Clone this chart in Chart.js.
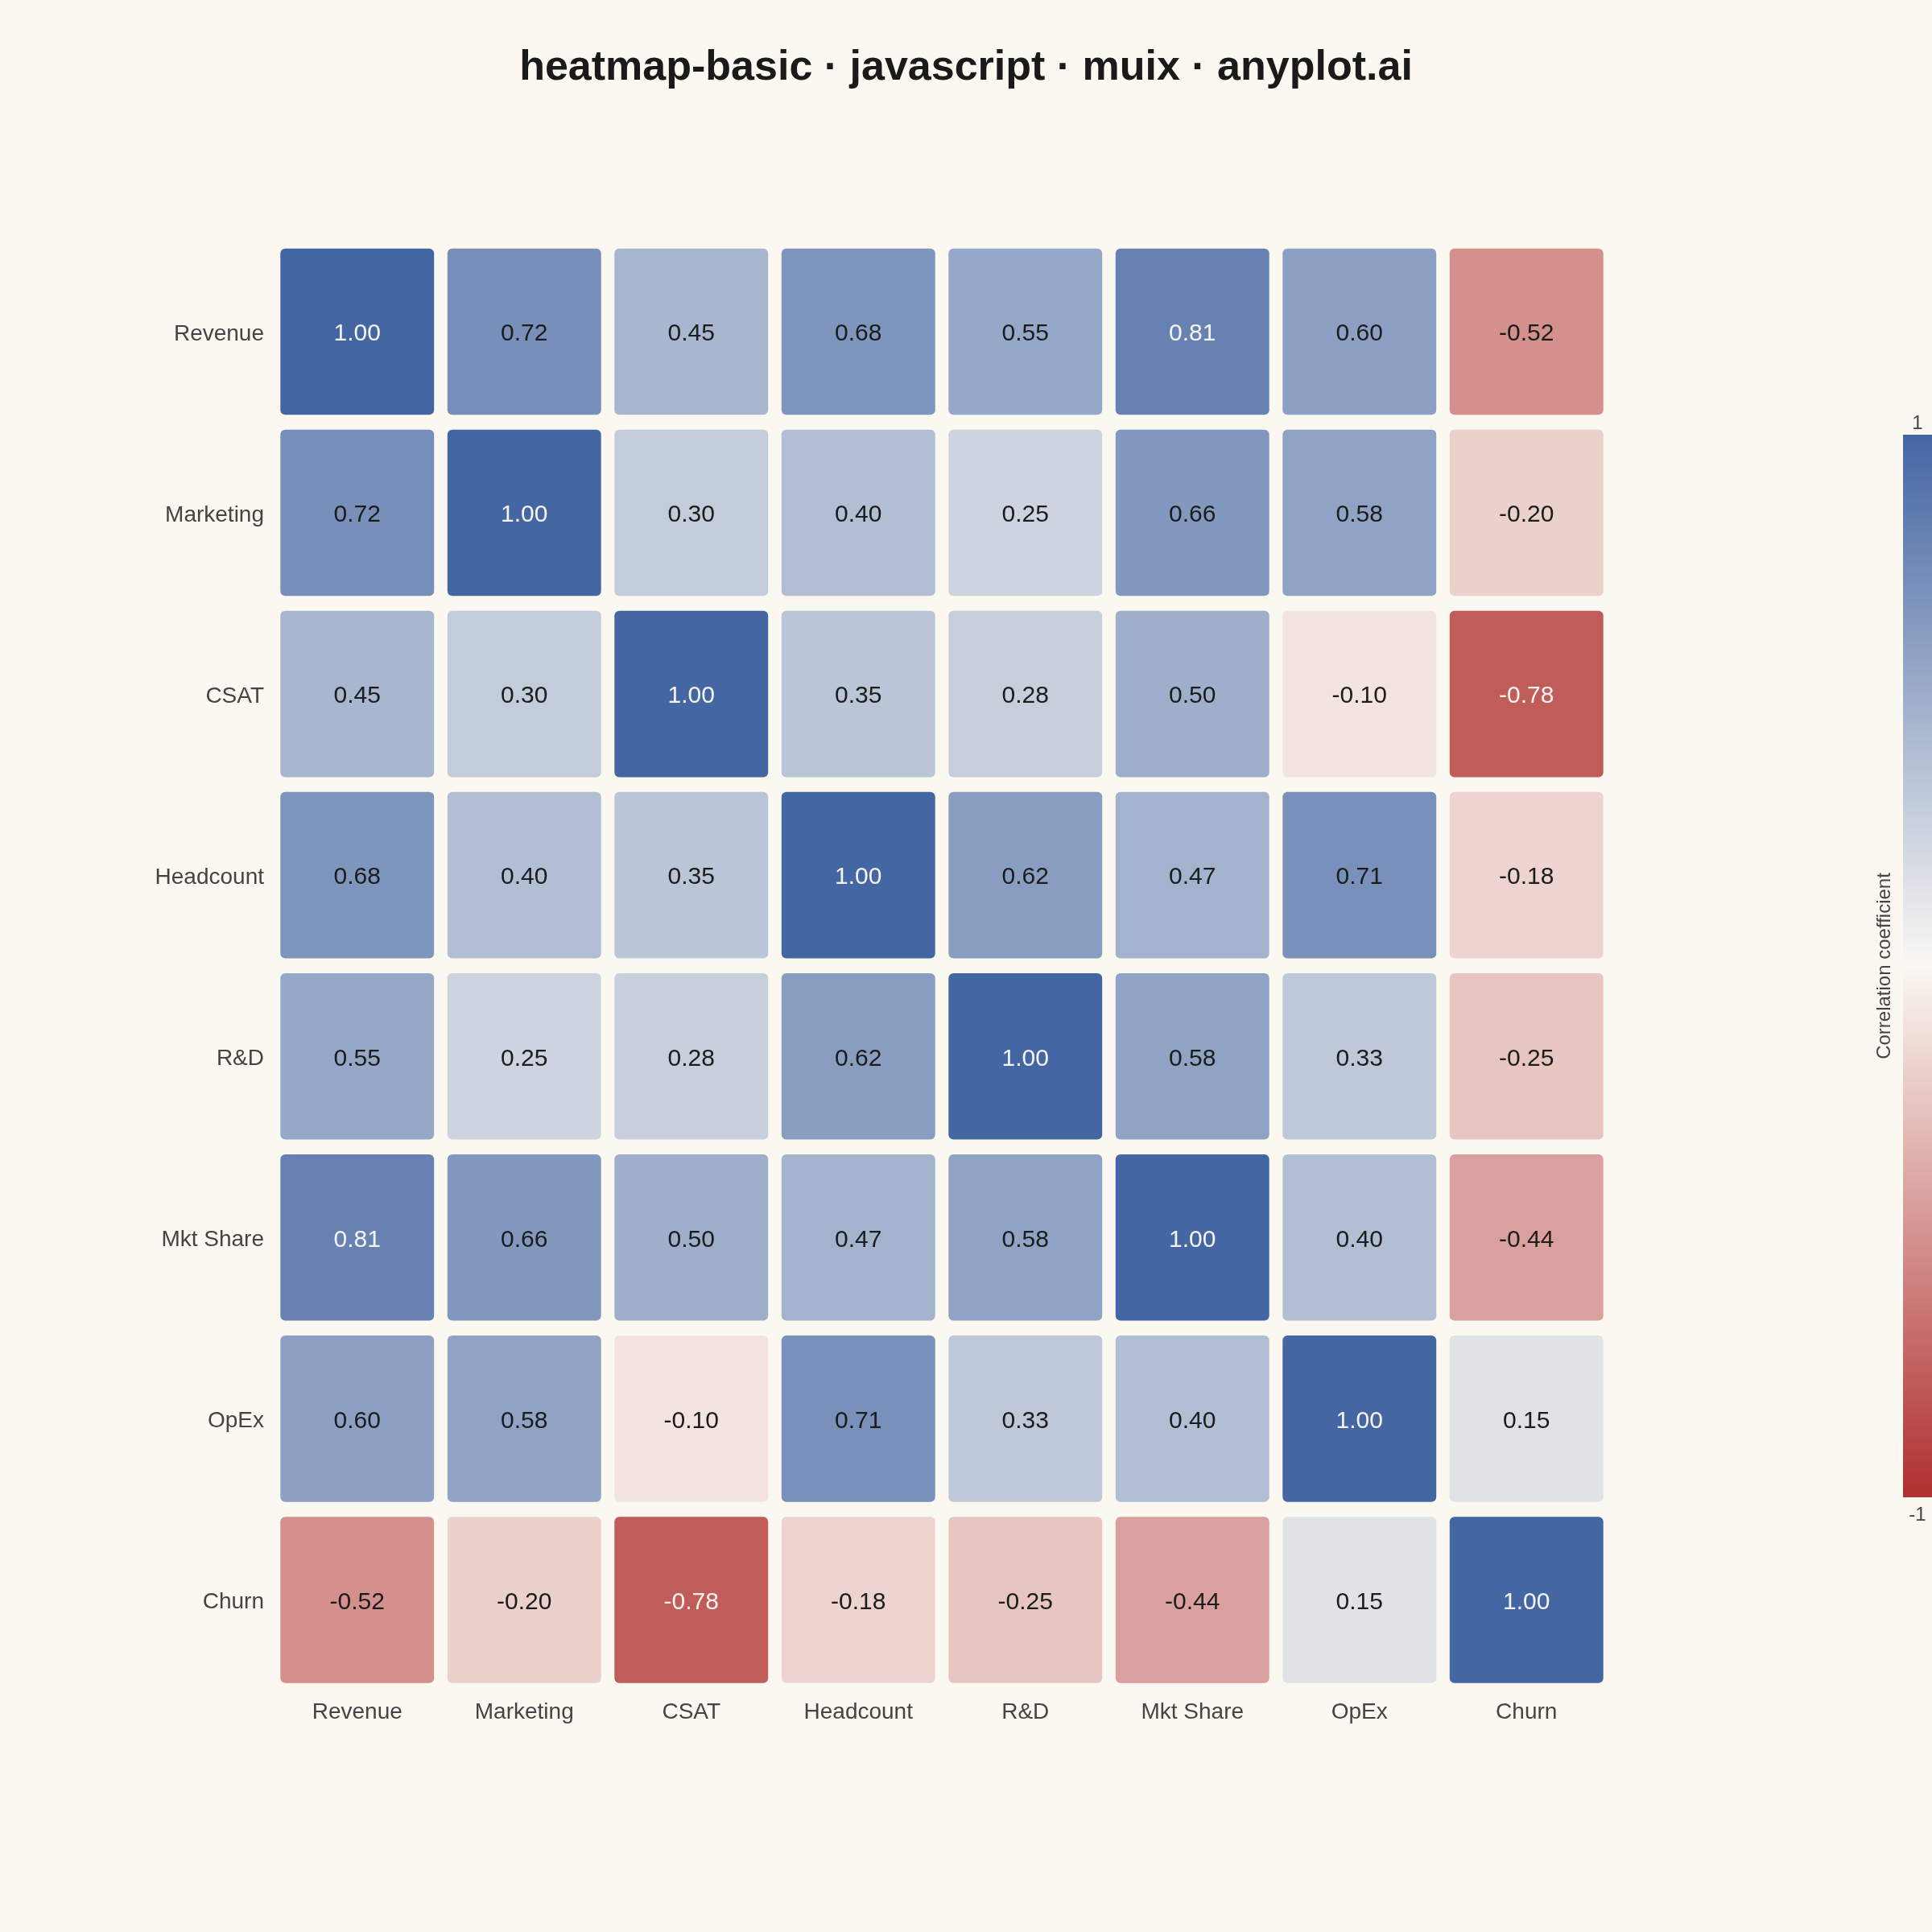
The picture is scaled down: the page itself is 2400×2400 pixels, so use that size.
<!DOCTYPE html>
<html>
<head>
<meta charset="utf-8">
<title>heatmap-basic</title>
<script src="https://cdn.jsdelivr.net/npm/chart.js@4"></script>
<style>
  html, body { margin: 0; padding: 0; background: #FAF8F1; }
  #wrap { width: 2400px; height: 2400px; }
</style>
</head>
<body>
<div id="wrap"><canvas id="heatmap" width="2400" height="2400"></canvas></div>
<script>
// metrics on both axes
const metrics = ["Revenue", "Marketing", "CSAT", "Headcount", "R&D", "Mkt Share", "OpEx", "Churn"];

// one row of the correlation matrix per metric
const revenue   = [1.00, 0.72, 0.45, 0.68, 0.55, 0.81, 0.60, -0.52];
const marketing = [0.72, 1.00, 0.30, 0.40, 0.25, 0.66, 0.58, -0.20];
const csat      = [0.45, 0.30, 1.00, 0.35, 0.28, 0.50, -0.10, -0.78];
const headcount = [0.68, 0.40, 0.35, 1.00, 0.62, 0.47, 0.71, -0.18];
const rnd       = [0.55, 0.25, 0.28, 0.62, 1.00, 0.58, 0.33, -0.25];
const mktShare  = [0.81, 0.66, 0.50, 0.47, 0.58, 1.00, 0.40, -0.44];
const opex      = [0.60, 0.58, -0.10, 0.71, 0.33, 0.40, 1.00, 0.15];
const churn     = [-0.52, -0.20, -0.78, -0.18, -0.25, -0.44, 0.15, 1.00];

const rows = [revenue, marketing, csat, headcount, rnd, mktShare, opex, churn];

// colour bar range and its tick labels
const scaleMin = -1;
const scaleMax = 1;
const colorbarTicks = ["1", "-1"];

const BG = "#FAF8F1";
const BLUE = [68, 102, 163];
const MID = [250, 248, 243];
const RED = [175, 48, 47];
const HALF = 0.459; // half cell height in row units

function mix(a, b, t) {
  return a.map((v, i) => Math.round(v + (b[i] - v) * t));
}
function cellColor(v) {
  const c = v >= 0 ? mix(MID, BLUE, v / scaleMax) : mix(MID, RED, v / scaleMin);
  return `rgb(${c[0]},${c[1]},${c[2]})`;
}

Chart.defaults.font.family = '"Liberation Sans", Arial, sans-serif';

const background = {
  id: "background",
  beforeDraw(chart) {
    const ctx = chart.ctx;
    ctx.save();
    ctx.fillStyle = BG;
    ctx.fillRect(0, 0, chart.width, chart.height);
    ctx.restore();
  }
};

const cellLabels = {
  id: "cellLabels",
  afterDatasetsDraw(chart) {
    const ctx = chart.ctx;
    ctx.save();
    ctx.font = '30px "Liberation Sans", Arial, sans-serif';
    ctx.textAlign = "center";
    ctx.textBaseline = "middle";
    rows.forEach((vals, r) => {
      chart.getDatasetMeta(r).data.forEach((bar, c) => {
        const v = vals[c];
        ctx.fillStyle = Math.abs(v) >= 0.75 ? "#F5F3EE" : "#1C1C1C";
        ctx.fillText(v.toFixed(2), bar.x, (bar.y + bar.base) / 2 + 3);
      });
    });
    ctx.restore();
  }
};

const colorbar = {
  id: "colorbar",
  afterDraw(chart) {
    const ctx = chart.ctx;
    const x = 2364, w = 36, top = 540, bottom = 1860;
    ctx.save();
    const g = ctx.createLinearGradient(0, top, 0, bottom);
    g.addColorStop(0, cellColor(scaleMax));
    g.addColorStop(0.25, cellColor(0.5));
    g.addColorStop(0.5, cellColor(0));
    g.addColorStop(0.75, cellColor(-0.5));
    g.addColorStop(1, cellColor(scaleMin));
    ctx.fillStyle = g;
    ctx.fillRect(x, top, w, bottom - top);

    ctx.fillStyle = "#444444";
    ctx.font = '24px "Liberation Sans", Arial, sans-serif';
    ctx.textAlign = "center";
    ctx.textBaseline = "middle";
    ctx.fillText(colorbarTicks[0], x + w / 2, 526);
    ctx.fillText(colorbarTicks[1], x + w / 2, 1882);

    ctx.translate(2341, (top + bottom) / 2);
    ctx.rotate(-Math.PI / 2);
    ctx.fillText("Correlation coefficient", 0, 0);
    ctx.restore();
  }
};

new Chart(document.getElementById("heatmap"), {
  type: "bar",
  data: {
    labels: metrics,
    datasets: rows.map((vals, r) => ({
      label: metrics[r],
      data: vals.map(() => [r - HALF, r + HALF]),
      backgroundColor: vals.map(cellColor),
      borderWidth: 0,
      borderRadius: 6,
      borderSkipped: false,
      grouped: false,
      barPercentage: 0.92,
      categoryPercentage: 1
    }))
  },
  options: {
    responsive: false,
    devicePixelRatio: 1,
    animation: false,
    layout: { padding: { left: 0, right: 0, top: 0, bottom: 240 } },
    plugins: {
      legend: { display: false },
      tooltip: { enabled: false },
      title: {
        display: true,
        text: "heatmap-basic · javascript · muix · anyplot.ai",
        color: "#1A1A1A",
        font: { size: 52, weight: "bold" },
        padding: { top: 53, bottom: 184 }
      }
    },
    scales: {
      x: {
        position: "bottom",
        grid: { display: false, drawTicks: false },
        border: { display: false },
        ticks: { color: "#444444", font: { size: 28 }, padding: 10, maxRotation: 0 },
        afterFit(scale) { scale.height = 60; }
      },
      y: {
        type: "linear",
        reverse: true,
        min: -0.5,
        max: metrics.length - 0.5,
        grid: { display: false, drawTicks: false },
        border: { display: false },
        afterBuildTicks(scale) { scale.ticks = metrics.map((_, i) => ({ value: i })); },
        ticks: {
          color: "#444444",
          font: { size: 28 },
          padding: 12,
          labelOffset: 3,
          callback: (v) => metrics[v]
        },
        afterFit(scale) { scale.width = 340; }
      },
      cb: {
        type: "linear",
        position: "right",
        min: scaleMin,
        max: scaleMax,
        grid: { display: false, drawTicks: false },
        border: { display: false },
        ticks: { display: false },
        afterFit(scale) { scale.width = 400; }
      }
    }
  },
  plugins: [background, cellLabels, colorbar]
});
</script>
</body>
</html>
